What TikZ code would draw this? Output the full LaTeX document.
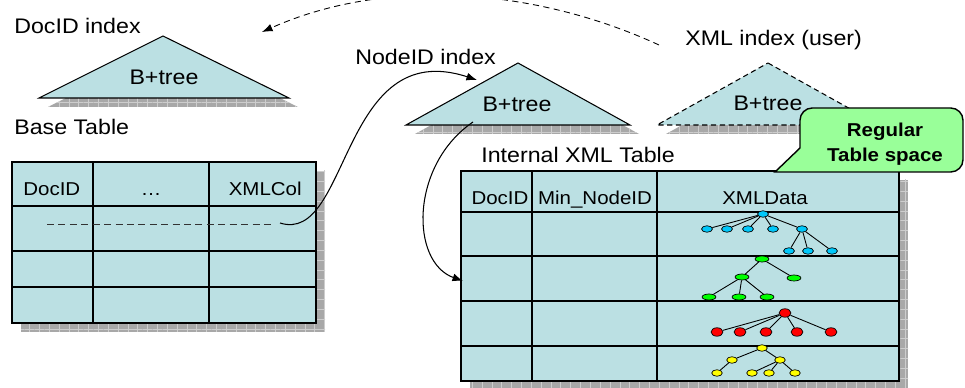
\documentclass[tikz,border=0pt]{standalone}
\usepackage{fontspec}
\setmainfont{Liberation Sans}[FakeStretch=1.1]
\usetikzlibrary{arrows.meta,patterns.meta,shapes.geometric}

\definecolor{tblue}{RGB}{187,224,227}
\definecolor{callgreen}{RGB}{153,255,153}
\definecolor{shadowgray}{RGB}{168,168,168}
\definecolor{shadowline}{RGB}{205,205,205}
\definecolor{nblue}{RGB}{0,200,250}
\definecolor{ngreen}{RGB}{0,255,0}
\definecolor{nred}{RGB}{255,0,0}
\definecolor{nyellow}{RGB}{255,255,0}

\tikzset{
  boxshadow/.style={shift={(9,9)}, preaction={fill=shadowgray},
    pattern={Hatch[distance=5.6pt,angle=0,line width=0.4pt]}, pattern color=shadowline},
  cell/.style={fill=tblue, draw, line width=0.7pt},
  idxlabel/.style={inner sep=0pt, font=\fontsize{12}{14}\selectfont},
  cellhead/.style={inner sep=0pt, font=\fontsize{10.6}{12}\selectfont},
  tnode/.style={ellipse, draw, line width=0.4pt, inner sep=0pt},
  bnode/.style={tnode, fill=nblue, minimum width=6.2pt, minimum height=3.7pt},
  gnode/.style={tnode, fill=ngreen, minimum width=7.9pt, minimum height=3.4pt},
  rnode/.style={tnode, fill=nred, minimum width=6.8pt, minimum height=4.8pt},
  ynode/.style={tnode, fill=nyellow, minimum width=6pt, minimum height=3.7pt},
  link/.style={line width=0.6pt, -{Latex[length=6pt,width=4.5pt]}},
}

\begin{document}
\begin{tikzpicture}[x=0.02cm, y=-0.02cm]
\useasboundingbox (0,0) rectangle (965,388);

% index trees
\fill[boxshadow] (163,36) -- (289,98) -- (39,98) -- cycle;
\draw[cell, line width=0.6pt] (163,36) -- (289,98) -- (39,98) -- cycle;
\node[idxlabel, anchor=base] (docbt) at (164,85) {B+tree};
\node[idxlabel, anchor=base west] (docidx) at (14,34) {DocID index};

\fill[boxshadow] (518,63) -- (630,125) -- (406,125) -- cycle;
\draw[cell, line width=0.6pt] (518,63) -- (630,125) -- (406,125) -- cycle;
\node[idxlabel, anchor=base] (nidbt) at (517,112) {B+tree};
\node[idxlabel, anchor=base west] (nididx) at (355,65) {NodeID index};

\fill[boxshadow] (768,63) -- (879,125) -- (657,125) -- cycle;
\draw[cell, line width=0.6pt, dash pattern=on 3pt off 2pt] (768,63) -- (879,125) -- (657,125) -- cycle;
\node[idxlabel, anchor=base] (xmlbt) at (768,111) {B+tree};
\node[idxlabel, anchor=base west] (xmlidx) at (685,46) {XML index (user)};

% base table
\node[idxlabel, anchor=base west] (basettl) at (14,135) {Base Table};
\fill[boxshadow] (12,162) rectangle (316,323);
\draw[cell] (12,162) rectangle (316,323);
\foreach \x in {93,209} \draw[line width=0.7pt] (\x,162) -- (\x,323);
\foreach \y in {206,251,287} \draw[line width=0.7pt] (12,\y) -- (316,\y);
\node[cellhead, anchor=base west] (bdoc) at (23,196) {DocID};
\node[cellhead, anchor=base] (bdots) at (151,196) {…};
\node[cellhead, anchor=base east] (bcol) at (302,196) {XMLCol};
\draw[line width=0.45pt, black!80, dash pattern=on 4pt off 2.5pt] (47,224) -- (272,224);

% internal XML table
\node[idxlabel, anchor=base west] (intttl) at (481,163) {Internal XML Table};
\fill[boxshadow] (461,171) rectangle (899,381);
\draw[cell] (461,171) rectangle (899,381);
\foreach \x in {532,657} \draw[line width=0.7pt] (\x,171) -- (\x,381);
\foreach \y in {212,256,301,346} \draw[line width=0.7pt] (461,\y) -- (899,\y);
\node[cellhead, anchor=base] (idoc) at (500,205) {DocID};
\node[cellhead, anchor=base] (imin) at (595,205) {Min\_NodeID};
\node[cellhead, anchor=base] (idata) at (765,205) {XMLData};

% xml documents in the XMLData column
\node[bnode] (b0) at (763,214) {};
\foreach \i/\x in {1/707,2/727,3/748,4/773,5/802} {
  \node[bnode] (b\i) at (\x,229) {};
  \draw[line width=0.5pt] (b0) -- (b\i);
}
\foreach \i/\x in {6/789,7/808,8/832} {
  \node[bnode] (b\i) at (\x,251) {};
  \draw[line width=0.5pt] (b5) -- (b\i);
}

\node[gnode] (g0) at (762,259) {};
\node[gnode] (g1) at (742,277) {};
\node[gnode] (g2) at (794,278) {};
\draw[line width=0.5pt] (g0) -- (g1) (g0) -- (g2);
\foreach \i/\x in {3/709,4/739,5/767} {
  \node[gnode] (g\i) at (\x,297) {};
  \draw[line width=0.5pt] (g1) -- (g\i);
}

\node[rnode] (r0) at (785,313) {};
\foreach \i/\x in {1/717,2/740,3/766,4/797,5/831} {
  \node[rnode] (r\i) at (\x,332) {};
  \draw[line width=0.5pt] (r0) -- (r\i);
}

\node[ynode] (y0) at (762,348) {};
\node[ynode] (y1) at (732,360) {};
\node[ynode] (y2) at (780,360) {};
\draw[line width=0.5pt] (y0) -- (y1) (y0) -- (y2);
\node[ynode] (y3) at (717,373) {};
\draw[line width=0.5pt] (y1) -- (y3);
\foreach \i/\x in {4/752,5/769,6/795} {
  \node[ynode] (y\i) at (\x,373) {};
  \draw[line width=0.5pt] (y2) -- (y\i);
}

% pointers between tables and indexes
\coordinate (colref) at (280,223);
\coordinate (nidin) at (477,80);
\coordinate (nidout) at (473,122);
\coordinate (rowin) at (463,281);
\coordinate (arcfrom) at (659,45);
\coordinate (arcto) at (262,32);
\draw[link] (colref) .. controls (350,245) and (340,35) .. (nidin);
\draw[link] (nidout) .. controls (410,165) and (410,262) .. (rowin);
\draw[link, line width=0.5pt, dash pattern=on 3.5pt off 2.5pt] (arcfrom) .. controls (540,-10) and (390,-25) .. (arcto);

% callout
\draw[fill=callgreen, line width=0.8pt] (775,172) -- (800,148) [rounded corners=7pt] -- (800,108) -- (963,108) -- (963,172) -- (815,172) [sharp corners] -- cycle;
\node[cellhead, font=\fontsize{10.6}{12}\selectfont\bfseries, anchor=base] (regular) at (885,137) {Regular};
\node[cellhead, font=\fontsize{10.6}{12}\selectfont\bfseries, anchor=base] (tspace) at (885,162) {Table space};
\end{tikzpicture}
\end{document}
